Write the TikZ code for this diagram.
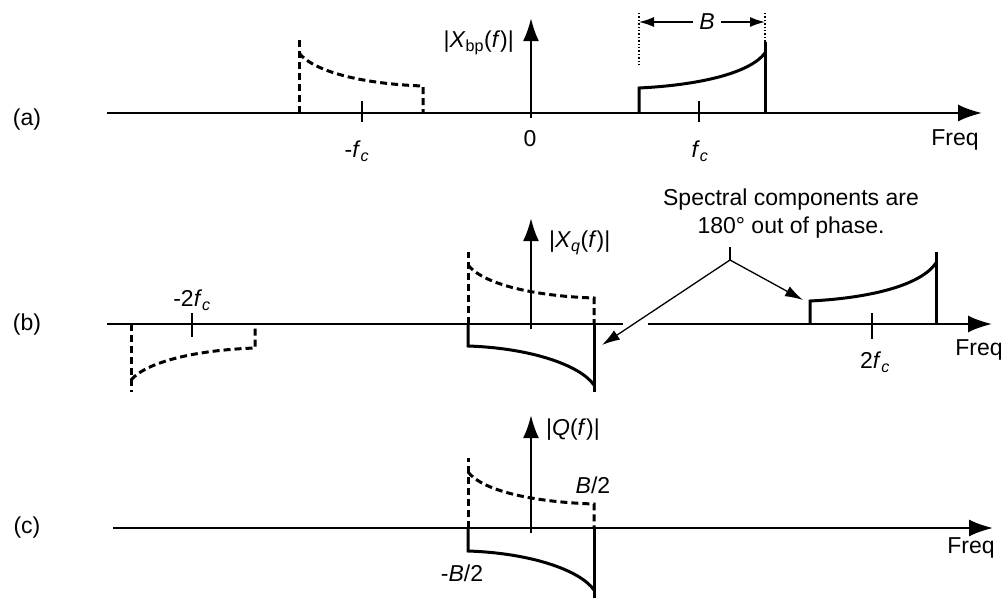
\documentclass[tikz,border=0pt]{standalone}
\usepackage{fontspec}
\setmainfont{Liberation Sans}
\usetikzlibrary{arrows.meta,positioning}

\begin{document}
\begin{tikzpicture}[x=1pt,y=-1pt,>=Latex,
  every node/.style={font=\fontsize{23}{28}\selectfont,inner sep=0pt},
  ax/.style={line width=2.3pt},
  axarr/.style={ax,-{Latex[length=24pt,width=17pt]}},
  yax/.style={line width=2.6pt,-{Latex[length=23pt,width=16pt]}},
  spec/.style={line width=3pt},
  dspec/.style={spec,dash pattern=on 7pt off 4pt},
  tick/.style={line width=1.4pt},
  ptr/.style={line width=1.3pt,-{Latex[length=18pt,width=11pt]}}]
\useasboundingbox (0,0) rectangle (1005,600);

% (a) bandpass spectrum
\node (la) at (27,120) {(a)};
\draw[axarr] (107,113) -- (982,113);
\draw[yax] (531,118) -- (531,18);
\node[anchor=east] (xbp) at (514,43) {|\textit{X}\textsubscript{bp}(\textit{f})|};
\node (zero) at (530,139) {0};
\draw[tick] (362,101) -- (362,122);
\draw[tick] (699,101) -- (699,122);
\node (mfc) at (357,151) {-\textit{f}\textsubscript{\textit{c}}};
\node (fc) at (700,151) {\textit{f}\textsubscript{\textit{c}}};
\node (fqa) at (955,140) {Freq};
\draw[dspec] (299,113) -- (299,40);
\draw[dspec] (299,53) .. controls (314,72) and (364,84) .. (423,86) -- (423,113);
\draw[spec] (639,113) -- (639,88) .. controls (700,85) and (750,73) .. (765,53);
\draw[spec] (765,42) -- (765,113);
% bandwidth
\draw[tick,dotted] (639,13) -- (639,67);
\draw[tick,dotted] (765,13) -- (765,42);
\node (bw) at (707,22) {\textit{B}};
\draw[tick,-{Latex[length=15pt,width=10pt]}] (bw.west) ++(-6,0) -- (639,22);
\draw[tick,-{Latex[length=15pt,width=10pt]}] (bw.east) ++(6,0) -- (765,22);

% (b) quadrature product
\node (lb) at (27,325) {(b)};
\draw[ax] (107,324) -- (623,324);
\draw[axarr] (648,324) -- (992,324);
\draw[yax] (531,329) -- (531,218);
\node[anchor=west] (xq) at (549,243) {|\textit{X}\textsubscript{\textit{q}}(\textit{f})|};
\draw[tick] (192,313) -- (192,337);
\draw[tick] (872,313) -- (872,339);
\node (m2fc) at (192,300) {-2\textit{f}\textsubscript{\textit{c}}};
\node (p2fc) at (875,362) {2\textit{f}\textsubscript{\textit{c}}};
\node (fqb) at (979,350) {Freq};
\draw[dspec] (131,324) -- (131,392);
\draw[dspec] (131,380) .. controls (146,362) and (196,350) .. (255,348) -- (255,324);
\draw[dspec] (468,324) -- (468,252);
\draw[dspec] (468,265) .. controls (483,284) and (533,296) .. (594,298) -- (594,324);
\draw[spec] (468,324) -- (468,346) .. controls (530,348) and (580,365) .. (594,385);
\draw[spec] (594,392) -- (594,324);
\draw[spec] (810,324) -- (810,301) .. controls (871,298) and (921,285) .. (936,263);
\draw[spec] (936,252) -- (936,324);
% note
\node[align=center] (note) at (791,214) {Spectral components are\\180\textdegree{} out of phase.};
\coordinate (apex) at (730,260);
\coordinate (tipR) at (803,300);
\coordinate (tipL) at (602,345);
\draw[tick] (apex) -- ++(0,-13);
\draw[ptr] (apex) -- (tipR);
\draw[ptr] (apex) -- (tipL);

% (c) baseband
\node (lc) at (27,528) {(c)};
\draw[axarr] (113,528) -- (993,528);
\draw[yax] (531,533) -- (531,415);
\node[anchor=west] (qf) at (546,430) {|\textit{Q}(\textit{f})|};
\node (hb) at (593,485) {\textit{B}/2};
\node (mhb) at (462,573) {-\textit{B}/2};
\node (fqc) at (971,548) {Freq};
\draw[dspec] (468,528) -- (468,458);
\draw[dspec] (468,472) .. controls (483,491) and (533,502) .. (594,504) -- (594,528);
\draw[spec] (468,528) -- (468,551) .. controls (530,553) and (580,570) .. (594,590);
\draw[spec] (594,598) -- (594,528);
\end{tikzpicture}
\end{document}
